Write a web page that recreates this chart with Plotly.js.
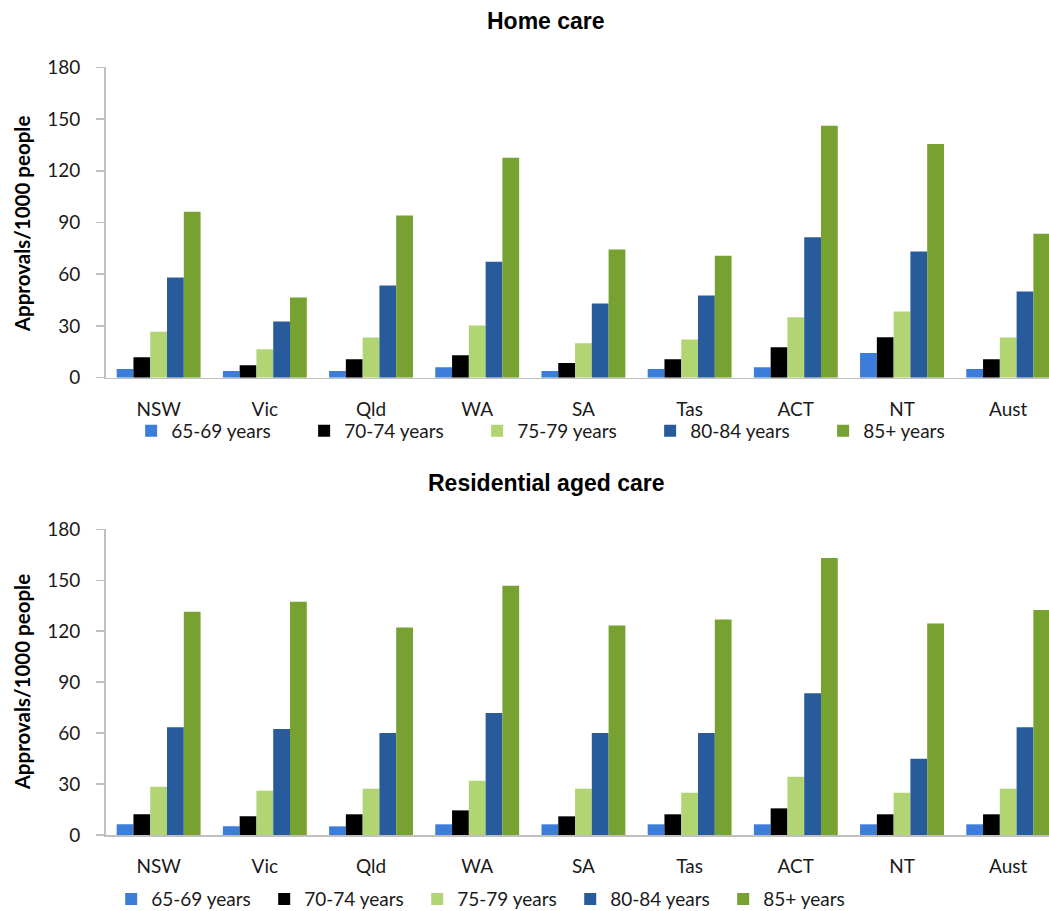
<!DOCTYPE html>
<html>
<head>
<meta charset="utf-8">
<script src="https://cdn.plot.ly/plotly-3.0.1.min.js"></script>
<style>html,body{margin:0;padding:0;background:#fff;}#chart{width:1049px;height:911px;}</style>
</head>
<body>
<div id="chart"></div>
<script>
// ---- data ----
var regions = ["NSW", "Vic", "Qld", "WA", "SA", "Tas", "ACT", "NT", "Aust"];
var ageGroups = ["65-69 years", "70-74 years", "75-79 years", "80-84 years", "85+ years"];

// Home care approvals per 1000 people
var home_65_69 = [5.0, 3.9, 3.9, 6.0, 3.9, 5.0, 6.0, 14.3, 5.0];
var home_70_74 = [11.8, 7.2, 10.7, 13.0, 8.5, 10.7, 17.6, 23.4, 10.7];
var home_75_79 = [26.7, 16.5, 23.3, 30.2, 20.0, 22.1, 35.1, 38.4, 23.3];
var home_80_84 = [58.1, 32.6, 53.5, 67.2, 43.0, 47.7, 81.4, 73.2, 50.0];
var home_85p   = [96.3, 46.5, 94.0, 127.5, 74.4, 70.7, 146.1, 135.6, 83.5];

// Residential aged care approvals per 1000 people
var res_65_69 = [6.3, 5.1, 5.1, 6.3, 6.3, 6.3, 6.3, 6.3, 6.3];
var res_70_74 = [12.2, 11.0, 12.2, 14.5, 11.0, 12.2, 15.7, 12.2, 12.2];
var res_75_79 = [28.4, 26.1, 27.3, 32.0, 27.3, 24.9, 34.3, 24.9, 27.3];
var res_80_84 = [63.5, 62.4, 60.0, 71.8, 60.0, 60.0, 83.5, 44.9, 63.5];
var res_85p   = [131.4, 137.3, 122.2, 146.7, 123.3, 126.9, 163.1, 124.5, 132.5];

var yTicks = [0, 30, 60, 90, 120, 150, 180];
var chartTitles = ["Home care", "Residential aged care"];
var yTitle = "Approvals/1000 people";

// ---- styling ----
var colors = ["#3b7dd8", "#000000", "#b2d573", "#285b9b", "#77a131"];
var tickFont = {family: "Lato, 'Open Sans', sans-serif", size: 19, color: "#1a1a1a"};

var homeSeries = [home_65_69, home_70_74, home_75_79, home_80_84, home_85p];
var resSeries = [res_65_69, res_70_74, res_75_79, res_80_84, res_85p];

var traces = [];
homeSeries.forEach(function (vals, i) {
  traces.push({
    type: "bar", x: regions, y: vals, name: ageGroups[i],
    xaxis: "x", yaxis: "y", legend: "legend",
    marker: {color: colors[i], line: {width: 0}}
  });
});
resSeries.forEach(function (vals, i) {
  traces.push({
    type: "bar", x: regions, y: vals, name: ageGroups[i],
    xaxis: "x2", yaxis: "y2", legend: "legend2",
    marker: {color: colors[i], line: {width: 0}}
  });
});

var xRange = [-0.5, 8.384];
function xAxis(anchor) {
  return {
    domain: [0.1006, 1], anchor: anchor, type: "category",
    range: xRange, showgrid: false, zeroline: false,
    showline: true, linecolor: "#bfbfbf", linewidth: 1.5,
    ticks: "", tickfont: tickFont, ticklabelstandoff: 14, fixedrange: true
  };
}
function yAxis(dom, anchor) {
  return {
    domain: dom, anchor: anchor, range: [0, 180],
    tickvals: yTicks, ticktext: yTicks.map(String),
    showgrid: false, zeroline: false,
    showline: true, linecolor: "#bfbfbf", linewidth: 1.5,
    ticks: "outside", ticklen: 8, tickcolor: "#bfbfbf", tickwidth: 1.5,
    tickfont: tickFont, ticklabelstandoff: 12, fixedrange: true
  };
}

var legendBase = {
  orientation: "h", xanchor: "left", yanchor: "middle",
  font: {family: "Lato, 'Open Sans', sans-serif", size: 19, color: "#1a1a1a"},
  bgcolor: "rgba(0,0,0,0)", borderwidth: 0, itemwidth: 30,
  entrywidthmode: "pixels", traceorder: "normal"
};

var layout = {
  width: 1049, height: 911,
  margin: {l: 0, r: 0, t: 0, b: 0, pad: 0, autoexpand: false},
  paper_bgcolor: "#ffffff", plot_bgcolor: "#ffffff",
  barmode: "group", bargap: 0.21, bargroupgap: 0,
  showlegend: true,
  xaxis: xAxis("y"),
  yaxis: yAxis([0.5854, 0.9261], "x"),
  xaxis2: xAxis("y2"),
  yaxis2: yAxis([0.0834, 0.4190], "x2"),
  legend: Object.assign({}, legendBase, {x: 0.125, y: 0.527, entrywidth: 128}),
  legend2: Object.assign({}, legendBase, {x: 0.106, y: 0.013, entrywidth: 108}),
  annotations: [
    {text: chartTitles[0], xref: "paper", yref: "paper", x: 0.5205, y: 0.977,
     xanchor: "center", yanchor: "middle", showarrow: false,
     font: {family: "'Liberation Sans', Arial, sans-serif", size: 23, color: "#000", weight: "bold"}},
    {text: chartTitles[1], xref: "paper", yref: "paper", x: 0.5205, y: 0.4695,
     xanchor: "center", yanchor: "middle", showarrow: false,
     font: {family: "'Liberation Sans', Arial, sans-serif", size: 23, color: "#000", weight: "bold"}},
    {text: yTitle, xref: "paper", yref: "paper", x: 0.021, y: 0.754, textangle: -90,
     xanchor: "center", yanchor: "middle", showarrow: false,
     font: {family: "Lato, 'Open Sans', sans-serif", size: 20.5, color: "#000", weight: "bold"}},
    {text: yTitle, xref: "paper", yref: "paper", x: 0.021, y: 0.251, textangle: -90,
     xanchor: "center", yanchor: "middle", showarrow: false,
     font: {family: "Lato, 'Open Sans', sans-serif", size: 20.5, color: "#000", weight: "bold"}}
  ]
};

Plotly.newPlot("chart", traces, layout, {displayModeBar: false, staticPlot: true});
</script>
</body>
</html>
